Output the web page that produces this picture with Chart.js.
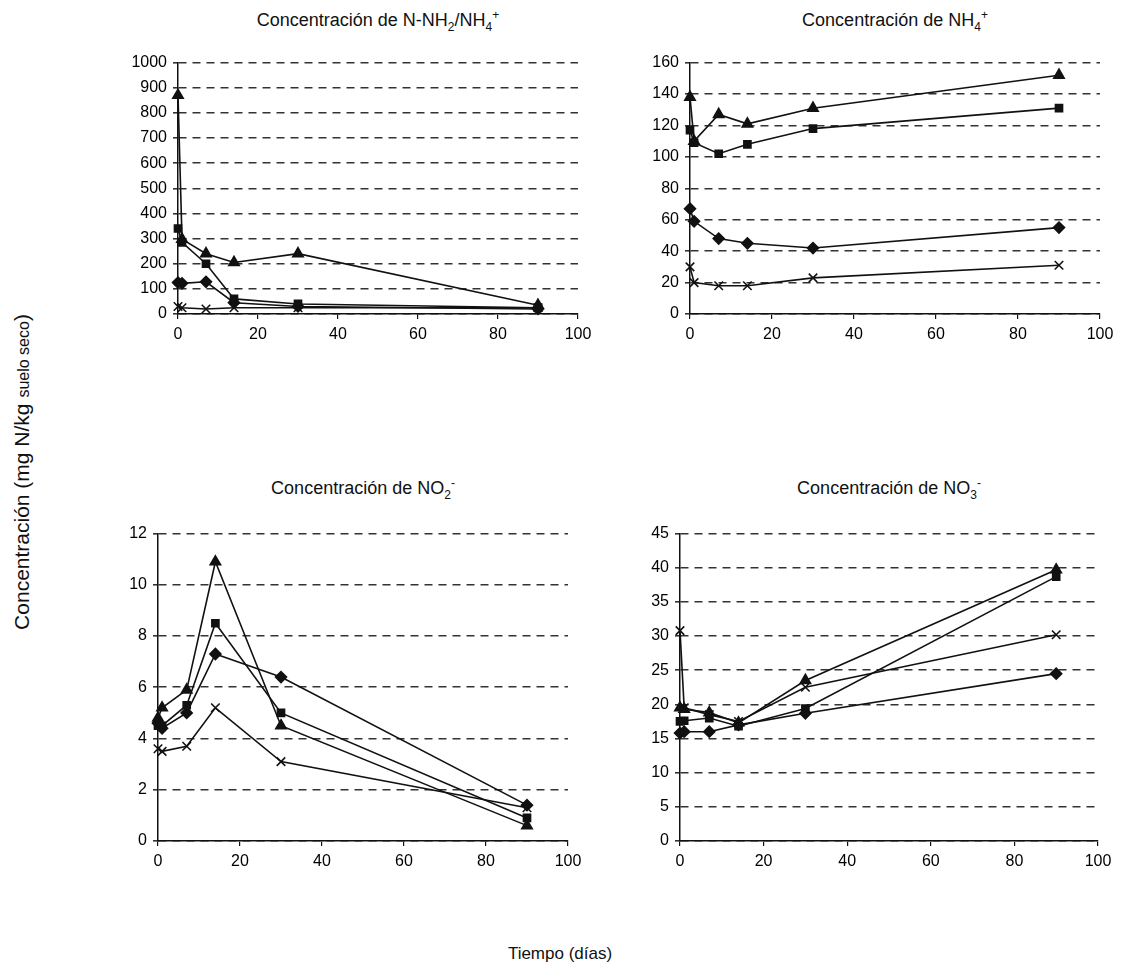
<!DOCTYPE html>
<html lang="es">
<head>
<meta charset="UTF-8">
<title>Concentración de nitrógeno</title>
<script src="https://cdn.jsdelivr.net/npm/chart.js@4.4.0/dist/chart.umd.min.js"></script>
<style>
  html, body { margin: 0; padding: 0; background: #fff; }
  body { width: 1127px; height: 980px; position: relative; font-family: Arial, "Liberation Sans", sans-serif; color: #111; }
  canvas { position: absolute; }
  .title { position: absolute; font-size: 18px; white-space: nowrap; transform: translateX(-50%); }
  .title sub, .title sup { font-size: 12px; }
  #ylabel { position: absolute; left: 22px; top: 472px; font-size: 21px; white-space: nowrap;
            transform: translate(-50%, -50%) rotate(-90deg); }
  #ylabel small { font-size: 16px; }
  #xlabel { position: absolute; left: 560px; top: 944px; font-size: 17px; transform: translateX(-50%); }
</style>
</head>
<body>
  <div class="title" style="left:378px; top:8px;">Concentración de N-NH<sub>2</sub>/NH<sub>4</sub><sup>+</sup></div>
  <div class="title" style="left:895px; top:8px;">Concentración de NH<sub>4</sub><sup>+</sup></div>
  <div class="title" style="left:363px; top:476px;">Concentración de NO<sub>2</sub><sup>-</sup></div>
  <div class="title" style="left:889px; top:476px;">Concentración de NO<sub>3</sub><sup>-</sup></div>
  <div id="ylabel">Concentración (mg N/kg <small>suelo seco</small>)</div>
  <div id="xlabel">Tiempo (días)</div>

  <canvas id="c1" width="478" height="301" style="left:120px; top:47px;"></canvas>
  <canvas id="c2" width="488" height="301" style="left:632px; top:47px;"></canvas>
  <canvas id="c3" width="488" height="357" style="left:100px; top:518px;"></canvas>
  <canvas id="c4" width="496" height="357" style="left:622px; top:518px;"></canvas>

<script>
  // sampling days
  const dias = [0, 1, 7, 14, 30, 90];

  // N-NH2/NH4+
  const nh2Triangulo = [870, 298, 240, 205, 240, 35];
  const nh2Cuadrado  = [340, 285, 200, 60, 40, 25];
  const nh2Rombo     = [125, 122, 128, 45, 30, 20];
  const nh2Aspa      = [30, 25, 20, 25, 25, 25];

  // NH4+
  const nh4Triangulo = [138, 110, 127, 121, 131, 152];
  const nh4Cuadrado  = [117, 109, 102, 108, 118, 131];
  const nh4Rombo     = [67, 59, 48, 45, 42, 55];
  const nh4Aspa      = [30, 20, 18, 18, 23, 31];

  // NO2-
  const no2Triangulo = [4.8, 5.2, 5.9, 10.9, 4.5, 0.6];
  const no2Cuadrado  = [4.5, 4.5, 5.3, 8.5, 5.0, 0.9];
  const no2Rombo     = [4.6, 4.4, 5.0, 7.3, 6.4, 1.4];
  const no2Aspa      = [3.6, 3.5, 3.7, 5.2, 3.1, 1.3];

  // NO3-
  const no3Triangulo = [19.5, 19.3, 18.8, 17.3, 23.5, 39.7];
  const no3Cuadrado  = [17.5, 17.6, 18.0, 16.8, 19.4, 38.7];
  const no3Rombo     = [15.8, 16.0, 16.0, 17.0, 18.7, 24.5];
  const no3Aspa      = [30.8, 19.5, 18.5, 17.5, 22.5, 30.2];

  const marcadores = [
    { style: 'triangle', radius: 6 },
    { style: 'rect', radius: 5 },
    { style: 'rectRot', radius: 5.5 },
    { style: 'crossRot', radius: 6 }
  ];

  function serie(values, m) {
    return {
      data: values.map((v, i) => ({ x: dias[i], y: v })),
      showLine: true,
      borderColor: '#111',
      backgroundColor: '#111',
      borderWidth: 1.6,
      pointStyle: m.style,
      pointRadius: m.radius,
      pointBorderWidth: 1.6,
      pointBorderColor: '#111',
      pointBackgroundColor: '#111',
      tension: 0,
      clip: false
    };
  }

  const tickFont = { family: 'Arial', size: 16 };

  function dibujar(id, series, yMax, yStep) {
    new Chart(document.getElementById(id), {
      type: 'scatter',
      data: { datasets: series.map((s, i) => serie(s, marcadores[i])) },
      options: {
        responsive: false,
        animation: false,
        layout: { padding: { top: 10, right: 20, left: 0, bottom: 0 } },
        plugins: { legend: { display: false }, tooltip: { enabled: false } },
        scales: {
          x: {
            type: 'linear', min: 0, max: 100,
            afterFit: s => { s.height = 34; },
            ticks: { stepSize: 20, color: '#000', font: tickFont, padding: 6, maxRotation: 0,
                     callback: v => String(v) },
            grid: { drawOnChartArea: false, drawTicks: true, tickLength: 5, color: '#111', lineWidth: 1.2 },
            border: { display: true, color: '#111', width: 1.5 }
          },
          y: {
            min: 0, max: yMax,
            afterFit: s => { s.width = 58; },
            ticks: { stepSize: yStep, color: '#000', font: tickFont, padding: 6,
                     callback: v => String(v) },
            grid: { color: '#333', lineWidth: 1.6, tickLength: 5 },
            border: { display: true, color: '#111', width: 1.5, dash: [8, 6] }
          }
        }
      }
    });
  }

  dibujar('c1', [nh2Triangulo, nh2Cuadrado, nh2Rombo, nh2Aspa], 1000, 100);
  dibujar('c2', [nh4Triangulo, nh4Cuadrado, nh4Rombo, nh4Aspa], 160, 20);
  dibujar('c3', [no2Triangulo, no2Cuadrado, no2Rombo, no2Aspa], 12, 2);
  dibujar('c4', [no3Triangulo, no3Cuadrado, no3Rombo, no3Aspa], 45, 5);
</script>
</body>
</html>
